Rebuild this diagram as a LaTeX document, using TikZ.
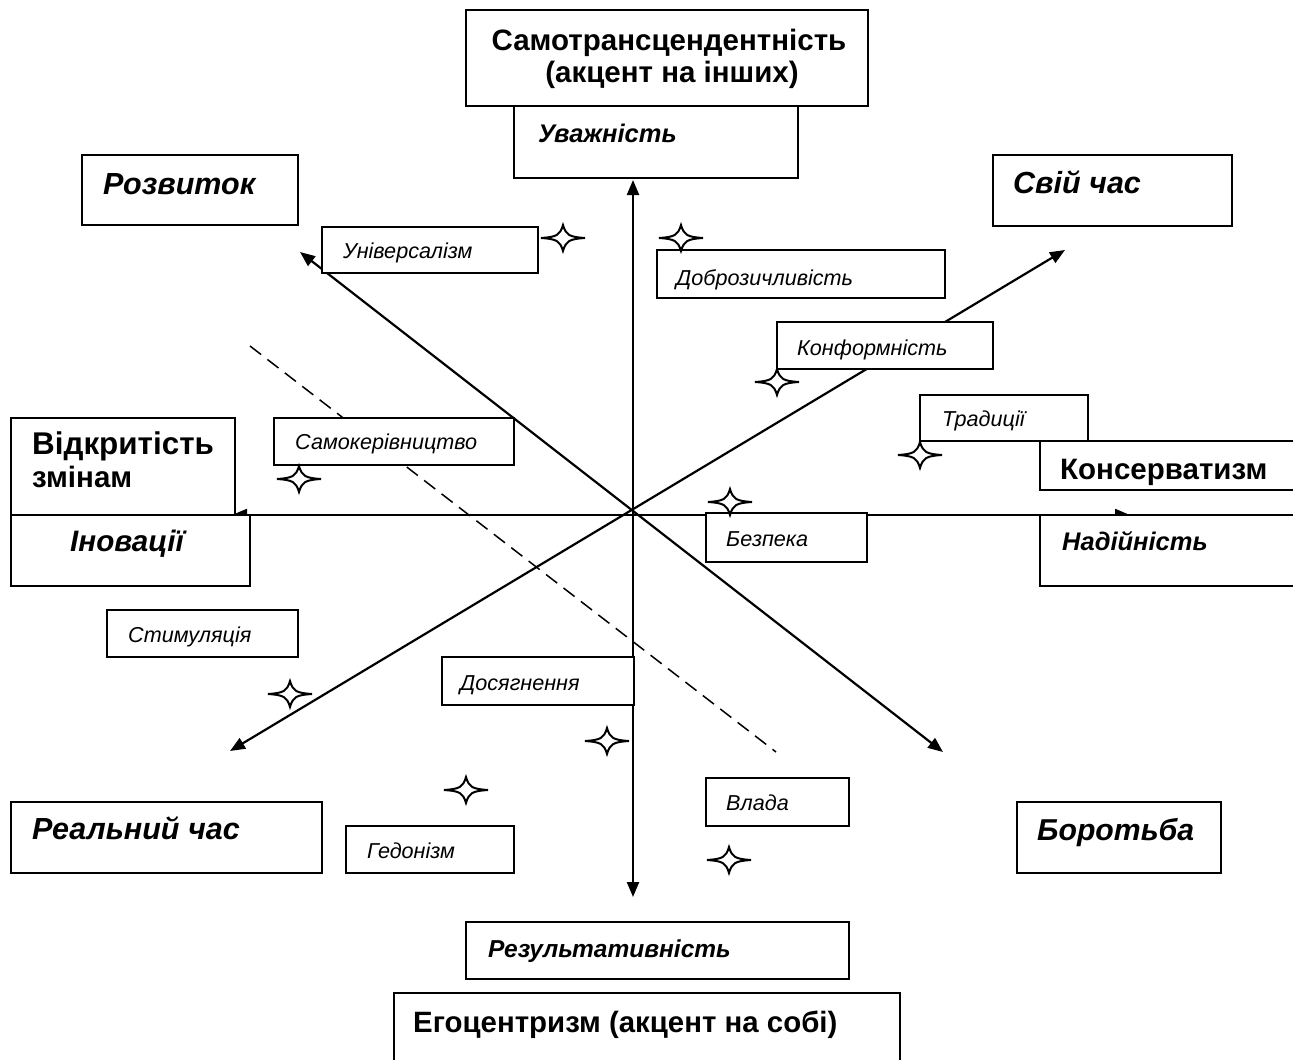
\documentclass[tikz,border=0pt]{standalone}
\usepackage{fontspec}
\setmainfont{Liberation Sans}
\usetikzlibrary{arrows.meta}
\newcommand{\fs}[1]{\fontsize{#1}{#1}\selectfont}
\tikzset{
  box/.style={draw, line width=1.8pt, fill=white, anchor=north west, inner sep=0pt, outer sep=0pt},
  big/.style={anchor=base west, inner sep=0pt, font=\fs{29.5}\bfseries},
  bigit/.style={anchor=base west, inner sep=0pt, font=\fs{30.5}\bfseries\itshape},
  midit/.style={anchor=base west, inner sep=0pt, font=\fs{25.5}\bfseries\itshape},
  small/.style={anchor=base west, inner sep=0pt, font=\fs{21.6}\itshape},
  axis/.style={line width=2.2pt, {Triangle[length=15pt,width=12pt]}-{Triangle[length=15pt,width=12pt]}},
  dashline/.style={line width=1.5pt, dash pattern=on 14pt off 8pt},
  spark/.pic={\draw[line width=2pt, fill=white] (-22,0) .. controls (-6,-1) and (-3,-3) .. (0,-13) .. controls (3,-3) and (6,-1) .. (22,0) .. controls (6,1) and (3,3) .. (0,13) .. controls (-3,3) and (-6,1) .. cycle;}
}
\newcommand{\bx}[5]{\node[box, minimum width=#4pt-#2pt, minimum height=#5pt-#3pt] (#1) at (#2,#3) {};}
\begin{document}
\begin{tikzpicture}[x=1pt,y=-1pt]
\clip (0,0) rectangle (1293,1060);
\fill[white] (0,0) rectangle (1293,1060);
% axes
\coordinate (vt) at (633,180);
\coordinate (vb) at (633,897);
\coordinate (hl) at (232,515);
\coordinate (hr) at (1130,515);
\coordinate (d1a) at (300,252);
\coordinate (d1b) at (943,752);
\coordinate (d2a) at (230,751);
\coordinate (d2b) at (1065,250);
\coordinate (da) at (250,346);
\coordinate (db) at (776,752);
\draw[axis] (vt) -- (vb);
\draw[axis] (hl) -- (hr);
\draw[axis] (d1a) -- (d1b);
\draw[axis] (d2a) -- (d2b);
\draw[dashline] (da) -- (db);
% boxes
\bx{top}{466}{10}{868}{106}
\bx{uvazh}{514}{106}{798}{178}
\bx{rozv}{82}{155}{298}{225}
\bx{sviy}{993}{155}{1232}{226}
\bx{univ}{322}{227}{538}{273}
\bx{dobro}{657}{250}{945}{298}
\bx{konf}{777}{322}{993}{369}
\bx{trad}{920}{395}{1088}{441}
\bx{kons}{1040}{441}{1310}{490}
\bx{nadi}{1040}{515}{1310}{586}
\bx{vidk}{11}{418}{235}{515}
\bx{inov}{11}{515}{250}{586}
\bx{samok}{274}{418}{514}{465}
\bx{bezp}{706}{513}{867}{562}
\bx{stym}{107}{610}{298}{657}
\bx{dosya}{442}{657}{634}{705}
\bx{vlada}{706}{778}{849}{826}
\bx{real}{11}{802}{322}{873}
\bx{gedo}{346}{826}{514}{873}
\bx{borot}{1017}{802}{1221}{873}
\bx{rez}{466}{922}{849}{979}
\bx{ego}{394}{993}{900}{1080}
% texts
\node[big, anchor=base] (t1) at (669,50) {Самотрансцендентність};
\node[big, anchor=base] (t2) at (672,82) {(акцент на інших)};
\node[midit] (t3) at (538,142) {Уважність};
\node[bigit] (t4) at (103,194) {Розвиток};
\node[bigit] (t5) at (1013,193) {Свій час};
\node[small] (t6) at (343,258) {Універсалізм};
\node[small] (t7) at (676,285) {Доброзичливість};
\node[small] (t8) at (797,355) {Конформність};
\node[small] (t9) at (942,426) {Традиції};
\node[big] (t10) at (1060,479) {Консерватизм};
\node[midit] (t11) at (1062,550) {Надійність};
\node[big, font=\fs{31.4}\bfseries] (t12) at (32,454) {Відкритість};
\node[big] (t13) at (32,487) {змінам};
\node[bigit, font=\fs{29.6}\bfseries\itshape] (t14) at (70,551) {Іновації};
\node[small] (t15) at (295,449) {Самокерівництво};
\node[small] (t16) at (726,546) {Безпека};
\node[small] (t17) at (128,642) {Стимуляція};
\node[small] (t18) at (460,690) {Досягнення};
\node[small] (t19) at (726,810) {Влада};
\node[bigit] (t20) at (32,839) {Реальний час};
\node[small] (t21) at (367,858) {Гедонізм};
\node[bigit, font=\fs{30.2}\bfseries\itshape] (t22) at (1037,840) {Боротьба};
\node[midit, font=\fs{24.5}\bfseries\itshape] (t23) at (488,957) {Результативність};
\node[big, font=\fs{29.4}\bfseries] (t24) at (413,1032) {Егоцентризм (акцент на собі)};
% stars
\foreach \p/\q in {563/238, 681/238, 777/382, 920/455, 299/479, 730/502, 290/694, 607/741, 466/790, 729/860}
  \pic at (\p,\q) {spark};
\end{tikzpicture}
\end{document}
